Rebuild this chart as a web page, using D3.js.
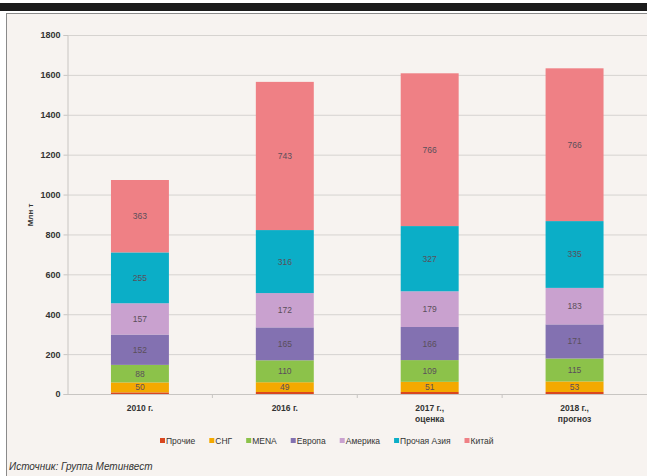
<!DOCTYPE html>
<html lang="ru">
<head>
<meta charset="UTF-8">
<title>Металлургия - спрос по регионам</title>
<script src="https://d3js.org/d3.v7.min.js"></script>
<style>
    body { margin: 0; padding: 0; background: #ffffff; font-family: "Liberation Sans", Arial, sans-serif; }
    svg { display: block; }
</style>
</head>
<body>
<svg id="vis"></svg>
<script>
    const width = 647, height = 476;

    // data
    const years = ["2010 г.", "2016 г.", "2017 г.,\nоценка", "2018 г.,\nпрогноз"];
    const regions = ["Прочие", "СНГ", "MENA", "Европа", "Америка", "Прочая Азия", "Китай"];
    const prochie   = [8, 10, 10, 10];
    const sng       = [50, 49, 51, 53];
    const mena      = [88, 110, 109, 115];
    const evropa    = [152, 165, 166, 171];
    const amerika   = [157, 172, 179, 183];
    const asia      = [255, 316, 327, 335];
    const kitai     = [363, 743, 766, 766];
    const yTicks = [0, 200, 400, 600, 800, 1000, 1200, 1400, 1600, 1800];

    const series = [prochie, sng, mena, evropa, amerika, asia, kitai];
    const colors = ["#d9471f", "#f4a900", "#8cc24a", "#8371b1", "#c9a1cf", "#0baec7", "#ef8085"];

    const rows = years.map((y, i) => {
        const r = { year: y };
        regions.forEach((k, j) => r[k] = series[j][i]);
        return r;
    });

    const svg = d3.select("#vis").attr("width", width).attr("height", height);

    // frame
    svg.append("rect").attr("x", 0).attr("y", 3).attr("width", width).attr("height", 8).attr("fill", "#1b1b1b");
    svg.append("rect").attr("x", 6.5).attr("y", 13.5).attr("width", width).attr("height", height)
        .attr("fill", "#f7f3f0").attr("stroke", "#8a8a8a").attr("stroke-width", 1);

    const margin = { left: 67.5 };
    const x = d3.scaleBand().domain(years).range([margin.left, 647]).paddingInner(0.6).paddingOuter(0.3);
    const y = d3.scaleLinear().domain([0, 1800]).range([394, 35]);

    // grid
    svg.append("g").selectAll("line").data(yTicks).join("line")
        .attr("x1", margin.left).attr("x2", width)
        .attr("y1", d => y(d) + 0.5).attr("y2", d => y(d) + 0.5)
        .attr("stroke", "#d6d3d0").attr("stroke-width", 1);

    // y axis
    const yAxis = svg.append("g").attr("transform", `translate(${margin.left},0)`)
        .call(d3.axisLeft(y).tickValues(yTicks).tickFormat(d3.format("d")).tickSize(4).tickPadding(3));
    yAxis.select(".domain").attr("stroke", "#c8c5c2");
    yAxis.selectAll(".tick line").attr("stroke", "#c8c5c2");
    yAxis.selectAll("text").attr("fill", "#333").attr("font-size", 9).attr("font-weight", "bold");

    svg.append("text").attr("transform", "translate(33,215) rotate(-90)")
        .attr("text-anchor", "middle").attr("font-size", 8).attr("font-weight", "bold").attr("fill", "#333")
        .text("Млн т");

    // stacked bars
    const stack = d3.stack().keys(regions)(rows);
    const groups = svg.append("g").selectAll("g").data(stack).join("g")
        .attr("fill", (d, i) => colors[i]);
    groups.selectAll("rect").data(d => d).join("rect")
        .attr("x", d => x(d.data.year))
        .attr("width", x.bandwidth())
        .attr("y", d => y(d[1]))
        .attr("height", d => y(d[0]) - y(d[1]));

    // value labels (all but Прочие)
    stack.slice(1).forEach(layer => {
        svg.append("g").selectAll("text").data(layer).join("text")
            .attr("x", d => x(d.data.year) + x.bandwidth() / 2)
            .attr("y", d => (y(d[0]) + y(d[1])) / 2 + 3)
            .attr("text-anchor", "middle")
            .attr("font-size", 8.5)
            .attr("fill", "#5a4f5a")
            .text(d => d[1] - d[0]);
    });

    // x axis
    svg.append("line").attr("x1", margin.left).attr("x2", width)
        .attr("y1", y(0) + 0.5).attr("y2", y(0) + 0.5).attr("stroke", "#c8c5c2");
    const step = x.step();
    const seps = years.slice(1).map(d => x(d) - step * x.paddingInner() / 2);
    svg.append("g").selectAll("line").data(seps).join("line")
        .attr("x1", d => d).attr("x2", d => d)
        .attr("y1", y(0)).attr("y2", y(0) + 4).attr("stroke", "#c8c5c2");

    const xl = svg.append("g").selectAll("text").data(years).join("text")
        .attr("x", d => x(d) + x.bandwidth() / 2)
        .attr("y", 411)
        .attr("text-anchor", "middle")
        .attr("font-size", 8.5).attr("font-weight", "bold").attr("fill", "#333");
    xl.selectAll("tspan").data(d => d.split("\n")).join("tspan")
        .attr("x", function () { return this.parentNode.getAttribute("x"); })
        .attr("dy", (d, i) => i ? 11 : 0)
        .text(d => d);

    // legend
    const legend = svg.append("g").attr("transform", "translate(160,444)");
    let lx = 0;
    regions.forEach((r, i) => {
        const g = legend.append("g").attr("transform", `translate(${lx},0)`);
        g.append("rect").attr("x", 0).attr("y", -6).attr("width", 5).attr("height", 5).attr("fill", colors[i]);
        const t = g.append("text").attr("x", 6).attr("y", 0).attr("font-size", 8.5).attr("fill", "#333").text(r);
        lx += 6 + t.node().getComputedTextLength() + 14;
    });

    // source
    svg.append("text").attr("x", 9).attr("y", 470)
        .attr("font-size", 10).attr("font-style", "italic").attr("fill", "#333")
        .text("Источник: Группа Метинвест");
</script>
</body>
</html>
